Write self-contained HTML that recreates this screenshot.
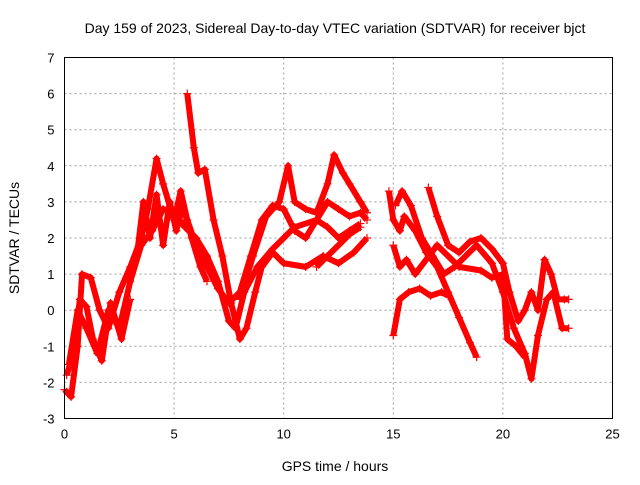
<!DOCTYPE html>
<html><head><meta charset="utf-8"><style>
body{margin:0;background:#fff}
svg text{font-family:"Liberation Sans",sans-serif;fill:#000}
</style></head><body>
<svg id="chart" width="640" height="480" viewBox="0 0 640 480" xmlns="http://www.w3.org/2000/svg">
<text x="335" y="33" font-size="14" text-anchor="middle">Day 159 of 2023, Sidereal Day-to-day VTEC variation (SDTVAR) for receiver bjct</text>
<text x="335" y="471" font-size="14" text-anchor="middle">GPS time / hours</text>
<text x="0" y="0" font-size="14" text-anchor="middle" transform="translate(19,238) rotate(-90)">SDTVAR / TECUs</text>
<g id="grid"></g>
<g id="ticks"></g>
<g id="series"></g>
<rect x="64.5" y="57.5" width="548" height="361" fill="none" stroke="#000" stroke-width="1"/>
</svg>
<script>
const xTicks=[0,5,10,15,20,25];
const yTicks=[-3,-2,-1,0,1,2,3,4,5,6,7];
const s1=[[0,-2.2],[0.3,-2.4],[0.6,-1],[0.8,1],[1.2,0.9],[1.6,0],[2,-0.5],[2.5,0.5],[3,1.2],[3.5,2],[3.8,2.8],[4.2,4.2],[4.5,3.5],[5,2.5],[5.3,3.3],[5.6,2.5],[6,1.8],[6.5,1.2],[7,0.6],[7.5,0.2],[8,0.5],[8.5,1.5],[9,2.5],[9.5,2.9],[10,2.8],[10.5,2.2],[11,2.0],[11.5,2.5],[12,3.0],[12.5,2.8],[13,2.6],[13.5,2.7],[13.8,2.5]];
const s2=[[5.6,6],[5.9,4.5],[6.1,3.8],[6.4,3.9],[6.8,2.5],[7.2,1.5],[7.6,0.2],[8,-0.8],[8.3,-0.5],[8.7,0.5],[9,1.2],[9.5,1.6],[10,1.3],[11,1.2],[11.8,1.5],[12.5,1.3],[13.2,1.6],[13.8,2]];
const s3=[[0.2,-1.5],[0.6,0],[1,-0.5],[1.5,-1.2],[2,0],[2.5,-0.5],[3,0.8],[3.5,1.8],[4,2.2],[4.5,2.8],[5,2.7],[5.5,2.3],[6,2],[6.5,1.5],[7,0.8],[7.5,-0.3],[7.8,-0.5],[8.2,0.5],[8.8,1.2],[9.5,1.7],[10,2.0],[10.5,2.3],[11.5,2.5],[12,2.3],[12.5,2.0],[13,2.2],[13.5,2.4]];
const s4=[[8,0.3],[8.6,1.5],[9.2,2.6],[9.8,3],[10.2,4],[10.5,3],[11,2.8],[11.5,2.7],[12,3.5],[12.3,4.3],[12.7,3.8],[13,3.5],[13.5,3],[13.8,2.7]];
const s5=[[11.5,1.2],[12,1.5],[12.5,1.8],[13,2.1],[13.5,2.3]];
const s6=[[14.8,3.3],[15,2.5],[15.3,2.2],[15.5,2.6],[16,2.2],[16.5,1.6],[17,1.2],[17.5,0.5],[18,-0.2],[18.5,-0.9],[18.8,-1.3]];
const s7=[[15,-0.7],[15.3,0.3],[15.7,0.5],[16.2,0.6],[16.7,0.4],[17.2,0.5],[17.5,0.4]];
const s8=[[15.1,2.9],[15.4,3.3],[15.8,2.9],[16.3,2.0],[16.8,1.5],[17.3,1.0],[17.8,1.2],[18.3,1.5],[18.8,1.8],[19.5,1.3],[20,0.5],[20.5,-0.5],[21,-1.2],[21.3,-1.9],[21.6,-0.7],[22,0.3],[22.3,0.5],[22.7,-0.5],[23,-0.5]];
const s9=[[16.6,3.4],[17,2.6],[17.5,1.8],[18,1.6],[18.5,1.9],[19,2.0],[19.5,1.7],[20,1.3],[20.3,0.5],[20.7,-0.3],[21,0],[21.3,0.5],[21.6,0],[21.9,1.4],[22.2,1.0],[22.5,0.3],[22.8,0.3],[23,0.3]];
const s10=[[15,1.8],[15.3,1.2],[15.6,1.4],[16,1.0],[17,1.8],[18,1.2],[19,1.1],[19.5,0.9],[20,1.0],[20.2,-0.8],[20.6,-1.0],[21,-1.3]];
const s11=[[3.3,1.5],[3.6,3.0],[3.9,2.0],[4.2,3.2],[4.5,1.8],[4.8,3.0],[5.1,2.2],[5.4,2.9],[5.8,2.0],[6.2,1.2],[6.5,0.8]];
const s12=[[0.1,-1.8],[0.4,-1.2],[0.7,0.3],[1,0.1],[1.3,-0.8],[1.7,-1.4],[2.1,0.2],[2.6,-0.8],[3,0.3]];
const allSeries=[s1,s2,s3,s4,s5,s6,s7,s8,s9,s10,s11,s12];
const NS="http://www.w3.org/2000/svg";
const X0=64.5,X1=612.5,Y0=418.5,Y1=57.5;
const xs=v=>X0+(v-0)/(25-0)*(X1-X0);
const ys=v=>Y0-(v+3)/10*(Y0-Y1);
function mk(tag,attrs,parent){const e=document.createElementNS(NS,tag);for(const k in attrs)e.setAttribute(k,attrs[k]);parent.appendChild(e);return e;}
const grid=document.getElementById('grid'),ticks=document.getElementById('ticks'),ser=document.getElementById('series');
xTicks.forEach(t=>{const x=xs(t);
 if(t>0&&t<25){const g=mk('line',{x1:x,x2:x,y1:Y1,y2:Y0,stroke:'#a0a0a0','stroke-dasharray':'2,3'},grid);
 
 }
 const l=mk('text',{x:x,y:Y0+20,'font-size':13,'text-anchor':'middle'},ticks);l.textContent=t;
 
 
});
yTicks.forEach(t=>{const y=ys(t);
 if(t>-3&&t<7){const g=mk('line',{x1:X0,x2:X1,y1:y,y2:y,stroke:'#a0a0a0','stroke-dasharray':'2,3'},grid);
 
 }
 const l=mk('text',{x:X0-10,y:y+5,'font-size':13,'text-anchor':'end'},ticks);l.textContent=t;
 
 
});
allSeries.forEach((s,i)=>{
 const p=mk('polyline',{points:s.map(d=>xs(d[0])+','+ys(d[1])).join(' '),fill:'none',stroke:'#ff0000','stroke-width':6,'stroke-linejoin':'round'},ser);
 
 
 s.forEach(d=>{const x=xs(d[0]),y=ys(d[1]);
  const m=mk('path',{d:`M${x-4},${y}H${x+4}M${x},${y-4}V${y+4}`,stroke:'#ff0000','stroke-width':1.2},ser);
  
  
 });
});
</script>
</body></html>
